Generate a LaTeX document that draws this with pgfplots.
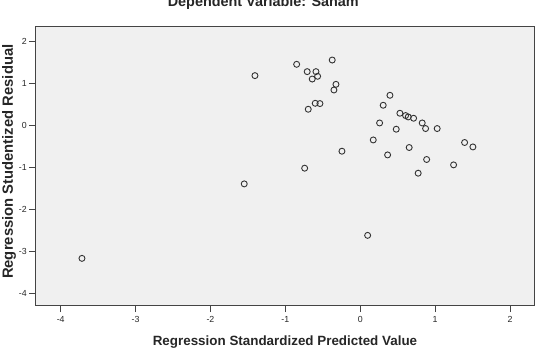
\documentclass[border=0pt]{standalone}
\usepackage{fontspec}
\setmainfont{Liberation Sans}
\usepackage{pgfplots}
\pgfplotsset{compat=1.18}

\definecolor{plotbg}{HTML}{F0F0F0}
\definecolor{framecol}{HTML}{444444}
\definecolor{markcol}{HTML}{333333}

% Standardized predicted value (x) vs. studentized residual (y)
\pgfplotstableread{
x       y
-1.406  1.178
-0.849  1.447
-0.374  1.549
-0.708  1.273
-0.591  1.273
-0.569  1.162
-0.641  1.097
-0.324  0.971
-0.351  0.836
-0.601  0.520
-0.538  0.513
-0.694  0.378
 0.397  0.710
 0.307  0.473
 0.530  0.283
 0.606  0.228
 0.641  0.195
 0.713  0.164
 0.828  0.052
 0.873 -0.081
 1.028 -0.081
 0.259  0.052
 0.481 -0.097
 0.174 -0.352
 1.394 -0.413
 1.505 -0.518
 0.654 -0.532
-0.244 -0.620
 0.366 -0.708
 0.887 -0.817
 1.247 -0.945
-0.742 -1.024
 0.774 -1.143
-1.549 -1.397
 0.099 -2.622
-3.716 -3.169
}\residuals

\begin{document}
\begin{tikzpicture}
\begin{axis}[
  name=ax,
  scale only axis,
  width=498.6bp, height=279.3bp,
  xmin=-4.334, xmax=2.325,
  ymin=-4.295, ymax=2.349,
  xtick={-4,-3,...,2},
  ytick={-4,-3,...,2},
  xtick pos=bottom, ytick pos=left,
  tick align=outside,
  major tick length=6.5bp,
  every tick/.style={draw=framecol, line width=0.8bp},
  axis line style={draw=framecol, line width=1.1bp},
  axis background/.style={fill=plotbg},
  /pgf/number format/assume math mode=true,
  tick label style={font=\fontsize{8.8bp}{10bp}\selectfont, text=black!85},
  xticklabel style={yshift=-1bp},
  yticklabel style={xshift=1bp},
]
\addplot[only marks, mark=o, mark size=3bp,
         mark options={draw=markcol, line width=0.9bp}]
  table[x=x, y=y] {\residuals};
\end{axis}

\node[anchor=base, font=\bfseries\fontsize{14.4bp}{17bp}\selectfont, text=black!85]
  at ([xshift=227.6bp, yshift=19.9bp]ax.north west) {Dependent Variable: Sanam};
\node[anchor=base, font=\bfseries\fontsize{13.4bp}{16bp}\selectfont, text=black!85]
  at ([yshift=-39.8bp]ax.south) {Regression Standardized Predicted Value};
\node[rotate=90, anchor=center, font=\bfseries\fontsize{14.8bp}{17bp}\selectfont, text=black!85]
  at ([xshift=-26.7bp, yshift=4.3bp]ax.west) {Regression Studentized Residual};

\pgfresetboundingbox
\path[use as bounding box]
  ([shift={(-35.7bp,-48.3bp)}]ax.south west) rectangle
  ([shift={(8.7bp,26.4bp)}]ax.north east);
\end{tikzpicture}
\end{document}
